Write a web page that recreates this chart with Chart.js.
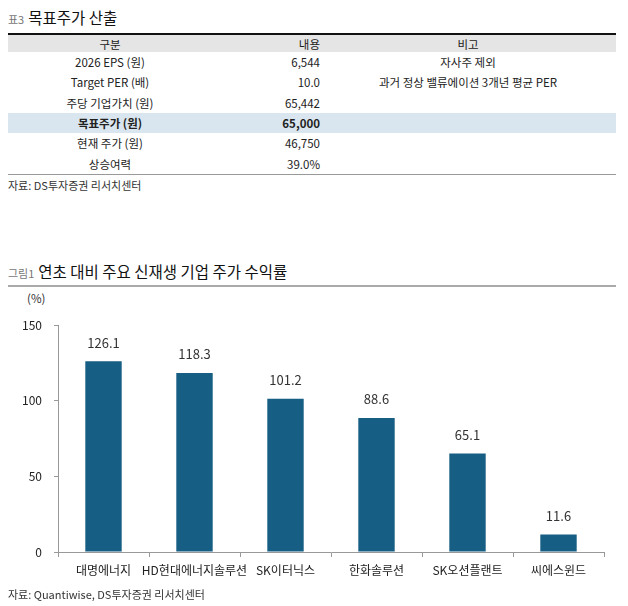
<!DOCTYPE html>
<html>
<head>
<meta charset="utf-8">
<script src="https://cdn.jsdelivr.net/npm/chart.js@4/dist/chart.umd.min.js"></script>
<style>
  html, body { margin: 0; padding: 0; background: #fff; }
  body { width: 628px; height: 606px; position: relative; overflow: hidden;
         font-family: "Noto Sans CJK KR", "Noto Sans", sans-serif; color: #222; }
  .title { position: absolute; left: 8px; font-size: 15.5px; line-height: 20px; color: #111; }
  .title small { font-size: 11px; color: #777; margin-right: 4px; }
  table { position: absolute; left: 8px; top: 33px; width: 608px; border-collapse: collapse;
          font-size: 11.5px; border-top: 2.5px solid #111; border-bottom: 1px solid #999; }
  td, th { height: 20.3px; padding: 0; font-weight: normal; }
  thead th { background: #e5e5e5; height: 17px; }
  tr.hl td { background: #dae6ef; font-weight: bold; }
  .c1 { width: 204px; text-align: center; }
  .c2 { width: 108px; text-align: right; }
  .c3 { text-align: center; }
  .src { position: absolute; left: 8px; font-size: 11px; color: #333; }
  .rule { position: absolute; left: 8px; width: 608px; height: 2px; background: #aaa; }
  .unit { position: absolute; left: 27px; top: 290px; font-size: 11.5px; color: #333; }
  #wrap { position: absolute; left: 0; top: 300px; width: 628px; height: 290px; }
</style>
</head>
<body>
<div class="title" style="top:7px"><small>표3</small>목표주가 산출</div>
<table>
  <thead><tr><th class="c1" id="h1"></th><th class="c2" id="h2"></th><th class="c3" id="h3"></th></tr></thead>
  <tbody id="tb"></tbody>
</table>
<div class="src" style="top:177px">자료: DS투자증권 리서치센터</div>

<div class="title" style="top:261px"><small>그림1</small>연초 대비 주요 신재생 기업 주가 수익률</div>
<div class="rule" style="top:285px"></div>
<div class="unit">(%)</div>
<div id="wrap"><canvas id="returnChart"></canvas></div>
<div class="src" style="top:586px">자료: Quantiwise, DS투자증권 리서치센터</div>

<script>
// Table data
const tableHeader = ['구분', '내용', '비고'];
const rowLabels = ['2026 EPS (원)', 'Target PER (배)', '주당 기업가치 (원)', '목표주가 (원)', '현재 주가 (원)', '상승여력'];
const rowValues = ['6,544', '10.0', '65,442', '65,000', '46,750', '39.0%'];
const rowNotes = ['자사주 제외', '과거 정상 밸류에이션 3개년 평균 PER', '', '', '', ''];
const highlightRow = 3;

// Chart data
const categories = ['대명에너지', 'HD현대에너지솔루션', 'SK이터닉스', '한화솔루션', 'SK오션플랜트', '씨에스윈드'];
const returns = [126.1, 118.3, 101.2, 88.6, 65.1, 11.6];
const yTicks = [0, 50, 100, 150];

document.getElementById('h1').textContent = tableHeader[0];
document.getElementById('h2').textContent = tableHeader[1];
document.getElementById('h3').textContent = tableHeader[2];
const tb = document.getElementById('tb');
rowLabels.forEach((lab, i) => {
    const tr = document.createElement('tr');
    if (i === highlightRow) tr.className = 'hl';
    [lab, rowValues[i], rowNotes[i]].forEach((t, j) => {
        const td = document.createElement('td');
        td.className = 'c' + (j + 1);
        td.textContent = t;
        tr.appendChild(td);
    });
    tb.appendChild(tr);
});

// value labels above bars
const barLabels = {
    id: 'barLabels',
    afterDatasetsDraw(chart) {
        const c = chart.ctx;
        const meta = chart.getDatasetMeta(0);
        c.save();
        c.font = '13px "Noto Sans CJK KR", sans-serif';
        c.fillStyle = '#333';
        c.textAlign = 'center';
        c.textBaseline = 'bottom';
        meta.data.forEach((bar, i) => {
            c.fillText(returns[i].toFixed(1), bar.x, bar.y - 12);
        });
        c.restore();
    }
};

const ctx = document.getElementById('returnChart').getContext('2d');
const returnChart = new Chart(ctx, {
    type: 'bar',
    data: {
        labels: categories,
        datasets: [{
            data: returns,
            backgroundColor: '#165e83',
            categoryPercentage: 1,
            barPercentage: 0.4
        }]
    },
    options: {
        responsive: true,
        maintainAspectRatio: false,
        animation: false,
        layout: { padding: { top: 25, right: 24, left: 0, bottom: 0 } },
        plugins: { legend: { display: false }, tooltip: { enabled: false } },
        scales: {
            x: {
                grid: { offset: true, drawOnChartArea: false, drawTicks: true, tickLength: 5, color: '#999' },
                border: { color: '#999' },
                ticks: { color: '#222', font: { size: 12, family: '"Noto Sans CJK KR", sans-serif' }, padding: 6, maxRotation: 0, autoSkip: false },
                afterFit: s => { s.height = 38; }
            },
            y: {
                min: 0,
                max: 150,
                afterBuildTicks: s => { s.ticks = yTicks.map(v => ({ value: v })); },
                grid: { drawOnChartArea: false, drawTicks: true, tickLength: 4, color: '#999' },
                border: { color: '#999' },
                ticks: { color: '#222', font: { size: 12, family: '"Noto Sans CJK KR", sans-serif' }, padding: 12 },
                afterFit: s => { s.width = 58; }
            }
        }
    },
    plugins: [barLabels]
});
</script>
</body>
</html>
